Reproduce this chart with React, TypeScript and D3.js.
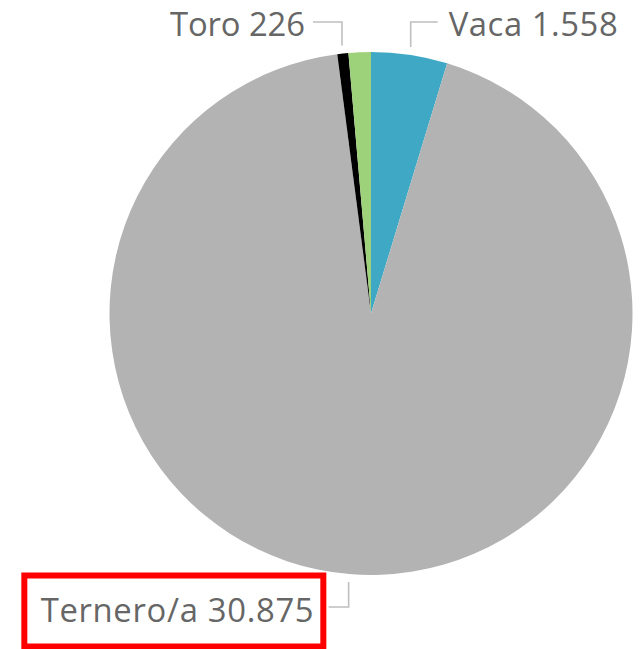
import React from "react";
import * as d3 from "d3";

const categories = ["Vaca", "Ternero/a", "Toro", "Otros"];
const values = [1558, 30875, 226, 456];
const labelTexts = ["Vaca 1.558", "Ternero/a 30.875", "Toro 226", ""];
const colors = ["#3FA9C5", "#B3B3B3", "#000000", "#9ED27A"];

const W = 641;
const H = 649;
const CX = 371;
const CY = 313.5;
const R = 261.5;

// label layout: side, y of the horizontal leader segment, leader length, text gap, baseline offset, text width
const labelLayout = [
  { side: 1, lineY: 22, len: 27, gap: 11, dy: 14, tw: 169 },
  { side: -1, lineY: 607, len: 20, gap: 15, dy: 15, tw: 273 },
  { side: -1, lineY: 22, len: 29, gap: 8, dy: 14, tw: 135 },
  null,
];

export default function App() {
  const pie = d3
    .pie<number>()
    .sort(null)
    .value((d) => d);
  const arcs = pie(values);
  const arc = d3.arc<d3.PieArcDatum<number>>().innerRadius(0).outerRadius(R);

  return (
    <svg
      width={W}
      height={H}
      style={{ position: "absolute", left: 0, top: 0, background: "#fff" }}
    >
      <g transform={`translate(${CX},${CY})`}>
        {arcs.map((a, i) => (
          <path key={categories[i]} d={arc(a) || ""} fill={colors[i]} />
        ))}
      </g>
      {arcs.map((a, i) => {
        const lay = labelLayout[i];
        if (!lay) return null;
        const mid = (a.startAngle + a.endAngle) / 2;
        const rr = R + 8;
        const px = CX + rr * Math.sin(mid);
        const py = CY - rr * Math.cos(mid);
        const hx = px + lay.side * lay.len;
        const tx = hx + lay.side * lay.gap;
        const ty = lay.lineY + lay.dy;
        return (
          <g key={"lab" + i}>
            <polyline
              points={`${px},${py} ${px},${lay.lineY} ${hx},${lay.lineY}`}
              fill="none"
              stroke="#BFBFBF"
              strokeWidth={1.6}
            />
            <text
              x={tx}
              y={ty}
              textAnchor={lay.side > 0 ? "start" : "end"}
              fontFamily="'Open Sans', sans-serif"
              fontSize={32.8}
              textLength={lay.tw}
              lengthAdjust="spacing"
              fill="#666666"
            >
              {labelTexts[i]}
            </text>
            {i === 1 && (
              <rect
                x={tx - 289.3}
                y={lay.lineY - 31.5}
                width={299}
                height={71}
                fill="none"
                stroke="#FF0000"
                strokeWidth={6}
              />
            )}
          </g>
        );
      })}
    </svg>
  );
}
